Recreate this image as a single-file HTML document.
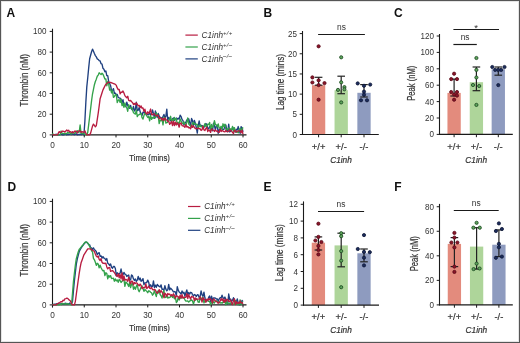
<!DOCTYPE html>
<html><head><meta charset="utf-8"><style>
html,body{margin:0;padding:0;background:#fff;}
body{width:520px;height:343px;overflow:hidden;}
.fig{position:relative;width:520px;height:343px;box-sizing:border-box;border:1px solid #555;background:#fff;box-shadow:inset 0 0 0 1px rgba(0,0,0,0.1);}
svg{position:absolute;left:-1px;top:-1px;filter:blur(0.3px);}
text{font-family:"Liberation Sans",sans-serif;}
.t{stroke:#333;stroke-width:0.2px;}
</style></head><body><div class="fig">
<svg width="520" height="343" viewBox="0 0 520 343">
<text x="6.60" y="16.60" font-size="12" text-anchor="start" font-weight="bold" font-style="normal" fill="#111" >A</text>
<line x1="52.50" y1="28.70" x2="52.50" y2="137.40" stroke="#1a1a1a" stroke-width="1.1"/>
<line x1="52.00" y1="134.90" x2="246.50" y2="134.90" stroke="#1a1a1a" stroke-width="1.1"/>
<line x1="49.70" y1="134.90" x2="52.50" y2="134.90" stroke="#1a1a1a" stroke-width="1"/>
<text transform="translate(46.50,137.90) scale(0.96,1)" font-size="8.4" text-anchor="end" font-weight="normal" font-style="normal" fill="#333" >0</text>
<line x1="49.70" y1="114.20" x2="52.50" y2="114.20" stroke="#1a1a1a" stroke-width="1"/>
<text transform="translate(46.50,117.20) scale(0.96,1)" font-size="8.4" text-anchor="end" font-weight="normal" font-style="normal" fill="#333" >20</text>
<line x1="49.70" y1="93.50" x2="52.50" y2="93.50" stroke="#1a1a1a" stroke-width="1"/>
<text transform="translate(46.50,96.50) scale(0.96,1)" font-size="8.4" text-anchor="end" font-weight="normal" font-style="normal" fill="#333" >40</text>
<line x1="49.70" y1="72.80" x2="52.50" y2="72.80" stroke="#1a1a1a" stroke-width="1"/>
<text transform="translate(46.50,75.80) scale(0.96,1)" font-size="8.4" text-anchor="end" font-weight="normal" font-style="normal" fill="#333" >60</text>
<line x1="49.70" y1="52.10" x2="52.50" y2="52.10" stroke="#1a1a1a" stroke-width="1"/>
<text transform="translate(46.50,55.10) scale(0.96,1)" font-size="8.4" text-anchor="end" font-weight="normal" font-style="normal" fill="#333" >80</text>
<line x1="49.70" y1="31.40" x2="52.50" y2="31.40" stroke="#1a1a1a" stroke-width="1"/>
<text transform="translate(46.50,34.40) scale(0.96,1)" font-size="8.4" text-anchor="end" font-weight="normal" font-style="normal" fill="#333" >100</text>
<line x1="52.50" y1="134.90" x2="52.50" y2="137.40" stroke="#1a1a1a" stroke-width="1"/>
<text transform="translate(52.50,147.90) scale(0.98,1)" font-size="8.4" text-anchor="middle" font-weight="normal" font-style="normal" fill="#333" >0</text>
<line x1="84.25" y1="134.90" x2="84.25" y2="137.40" stroke="#1a1a1a" stroke-width="1"/>
<text transform="translate(84.25,147.90) scale(0.98,1)" font-size="8.4" text-anchor="middle" font-weight="normal" font-style="normal" fill="#333" >10</text>
<line x1="116.00" y1="134.90" x2="116.00" y2="137.40" stroke="#1a1a1a" stroke-width="1"/>
<text transform="translate(116.00,147.90) scale(0.98,1)" font-size="8.4" text-anchor="middle" font-weight="normal" font-style="normal" fill="#333" >20</text>
<line x1="147.75" y1="134.90" x2="147.75" y2="137.40" stroke="#1a1a1a" stroke-width="1"/>
<text transform="translate(147.75,147.90) scale(0.98,1)" font-size="8.4" text-anchor="middle" font-weight="normal" font-style="normal" fill="#333" >30</text>
<line x1="179.50" y1="134.90" x2="179.50" y2="137.40" stroke="#1a1a1a" stroke-width="1"/>
<text transform="translate(179.50,147.90) scale(0.98,1)" font-size="8.4" text-anchor="middle" font-weight="normal" font-style="normal" fill="#333" >40</text>
<line x1="211.25" y1="134.90" x2="211.25" y2="137.40" stroke="#1a1a1a" stroke-width="1"/>
<text transform="translate(211.25,147.90) scale(0.98,1)" font-size="8.4" text-anchor="middle" font-weight="normal" font-style="normal" fill="#333" >50</text>
<line x1="243.00" y1="134.90" x2="243.00" y2="137.40" stroke="#1a1a1a" stroke-width="1"/>
<text transform="translate(243.00,147.90) scale(0.98,1)" font-size="8.4" text-anchor="middle" font-weight="normal" font-style="normal" fill="#333" >60</text>
<text x="0" y="0" font-size="10" text-anchor="middle" fill="#333" textLength="52.4" class="t" lengthAdjust="spacingAndGlyphs" transform="translate(27.8,80.2) rotate(-90)">Thrombin (nM)</text>
<text class="t" x="149.6" y="160.6" font-size="9.2" text-anchor="middle" fill="#333" textLength="40.5" lengthAdjust="spacingAndGlyphs">Time (mins)</text>
<path d="M52.50,134.90 L53.45,134.90 L54.41,134.90 L55.36,134.64 L56.31,134.19 L57.26,134.83 L58.21,134.90 L59.17,134.90 L60.12,134.44 L61.07,133.88 L62.02,134.73 L62.98,134.90 L63.93,134.90 L64.88,133.44 L65.83,134.15 L66.79,134.90 L67.74,134.02 L68.69,134.61 L69.64,134.36 L70.60,134.35 L71.55,134.57 L72.50,133.86 L73.45,134.32 L74.41,134.72 L75.36,134.09 L76.31,133.77 L77.27,134.90 L78.22,134.32 L79.17,134.71 L80.12,134.15 L81.08,134.79 L82.03,133.91 L82.98,133.89 L83.93,134.77 L84.88,121.14 L85.84,102.38 L86.79,86.84 L87.74,77.72 L88.69,67.94 L89.65,58.79 L90.60,55.26 L91.55,51.73 L92.50,49.15 L93.46,51.30 L94.41,53.54 L95.36,55.61 L96.31,56.85 L97.27,58.86 L98.22,59.46 L99.17,60.69 L100.12,60.96 L101.08,63.65 L102.03,64.06 L102.98,68.31 L103.94,69.33 L104.89,71.79 L105.84,70.93 L106.79,75.59 L107.74,75.61 L108.70,81.64 L109.65,83.40 L110.60,85.68 L111.55,90.57 L112.51,90.53 L113.46,88.64 L114.41,93.37 L115.37,93.22 L116.32,94.74 L117.27,94.41 L118.22,97.44 L119.17,97.96 L120.13,98.09 L121.08,99.36 L122.03,102.40 L122.98,99.60 L123.94,105.28 L124.89,105.75 L125.84,106.45 L126.79,102.10 L127.75,105.49 L128.70,107.34 L129.65,108.22 L130.60,105.35 L131.56,109.09 L132.51,110.09 L133.46,106.47 L134.41,110.97 L135.37,109.56 L136.32,102.14 L137.27,110.74 L138.22,110.18 L139.18,107.38 L140.13,111.84 L141.08,113.81 L142.03,115.43 L142.99,112.07 L143.94,112.72 L144.89,111.63 L145.84,113.60 L146.80,113.94 L147.75,114.81 L148.70,114.56 L149.65,113.24 L150.61,114.68 L151.56,113.81 L152.51,109.94 L153.46,113.38 L154.42,118.25 L155.37,110.99 L156.32,114.34 L157.27,117.46 L158.23,113.51 L159.18,115.73 L160.13,117.37 L161.08,117.63 L162.04,118.66 L162.99,116.53 L163.94,114.46 L164.89,117.80 L165.85,116.35 L166.80,109.17 L167.75,120.43 L168.70,117.36 L169.66,118.84 L170.61,120.73 L171.56,120.87 L172.51,118.83 L173.47,118.05 L174.42,120.41 L175.37,119.32 L176.32,118.03 L177.28,119.17 L178.23,118.10 L179.18,119.20 L180.13,115.19 L181.09,116.58 L182.04,119.43 L182.99,120.71 L183.94,124.80 L184.90,123.40 L185.85,122.32 L186.80,120.03 L187.75,120.58 L188.71,118.77 L189.66,122.33 L190.61,125.74 L191.56,118.49 L192.52,120.55 L193.47,125.43 L194.42,120.33 L195.38,123.44 L196.33,127.66 L197.28,133.12 L198.23,125.24 L199.18,120.90 L200.14,126.26 L201.09,125.31 L202.04,125.56 L202.99,125.99 L203.95,127.35 L204.90,125.11 L205.85,123.48 L206.81,124.66 L207.76,128.20 L208.71,128.88 L209.66,126.37 L210.61,128.34 L211.57,128.38 L212.52,130.83 L213.47,123.29 L214.42,125.70 L215.38,129.88 L216.33,126.03 L217.28,125.27 L218.23,133.35 L219.19,129.60 L220.14,129.41 L221.09,127.37 L222.04,129.15 L223.00,129.54 L223.95,129.33 L224.90,125.45 L225.85,124.97 L226.81,130.78 L227.76,131.71 L228.71,124.17 L229.66,131.95 L230.62,131.16 L231.57,129.94 L232.52,129.07 L233.47,127.99 L234.43,129.38 L235.38,132.08 L236.33,129.27 L237.28,129.87 L238.24,126.54 L239.19,130.54 L240.14,133.35 L241.09,126.59 L242.05,127.69 L243.00,131.88" fill="none" stroke="#1f4080" stroke-width="1.35" stroke-linejoin="round"/>
<path d="M52.50,133.21 L53.45,134.90 L54.41,134.55 L55.36,134.90 L56.31,134.90 L57.26,134.90 L58.21,134.90 L59.17,134.90 L60.12,134.90 L61.07,131.06 L62.02,133.16 L62.98,133.56 L63.93,133.43 L64.88,133.67 L65.83,133.91 L66.79,133.28 L67.74,132.48 L68.69,133.13 L69.64,132.45 L70.60,133.72 L71.55,133.84 L72.50,132.27 L73.45,132.79 L74.41,133.35 L75.36,132.85 L76.31,132.06 L77.27,130.71 L78.22,132.34 L79.17,132.13 L80.12,124.99 L81.08,133.45 L82.03,133.65 L82.98,133.24 L83.93,133.80 L84.88,134.51 L85.84,134.35 L86.79,134.90 L87.74,132.31 L88.69,124.55 L89.65,116.79 L90.60,108.88 L91.55,100.89 L92.50,94.02 L93.46,89.36 L94.41,84.70 L95.36,81.54 L96.31,79.13 L97.27,76.28 L98.22,75.06 L99.17,72.81 L100.12,73.72 L101.08,74.53 L102.03,73.20 L102.98,74.15 L103.94,76.46 L104.89,78.97 L105.84,78.92 L106.79,85.74 L107.74,81.55 L108.70,84.03 L109.65,90.18 L110.60,89.07 L111.55,92.86 L112.51,90.80 L113.46,97.43 L114.41,96.52 L115.37,94.60 L116.32,94.96 L117.27,102.55 L118.22,100.27 L119.17,99.61 L120.13,102.46 L121.08,99.03 L122.03,105.62 L122.98,103.48 L123.94,107.32 L124.89,103.02 L125.84,106.53 L126.79,107.85 L127.75,111.23 L128.70,104.75 L129.65,107.27 L130.60,107.85 L131.56,107.62 L132.51,109.87 L133.46,112.57 L134.41,113.51 L135.37,114.10 L136.32,110.01 L137.27,116.54 L138.22,114.98 L139.18,114.70 L140.13,113.81 L141.08,113.34 L142.03,117.70 L142.99,119.09 L143.94,115.56 L144.89,113.13 L145.84,114.46 L146.80,115.99 L147.75,117.51 L148.70,116.31 L149.65,120.82 L150.61,115.49 L151.56,119.34 L152.51,117.41 L153.46,118.16 L154.42,116.86 L155.37,117.77 L156.32,112.71 L157.27,115.27 L158.23,115.46 L159.18,123.62 L160.13,119.98 L161.08,120.76 L162.04,118.39 L162.99,124.88 L163.94,117.30 L164.89,117.68 L165.85,123.11 L166.80,122.51 L167.75,122.24 L168.70,120.49 L169.66,119.28 L170.61,116.28 L171.56,121.41 L172.51,119.39 L173.47,120.88 L174.42,117.45 L175.37,119.85 L176.32,118.61 L177.28,124.17 L178.23,122.36 L179.18,123.87 L180.13,118.90 L181.09,120.92 L182.04,123.18 L182.99,123.65 L183.94,121.74 L184.90,124.49 L185.85,125.14 L186.80,122.19 L187.75,117.99 L188.71,124.07 L189.66,124.89 L190.61,126.38 L191.56,126.88 L192.52,122.97 L193.47,122.41 L194.42,124.38 L195.38,123.83 L196.33,124.40 L197.28,124.46 L198.23,128.17 L199.18,125.96 L200.14,124.83 L201.09,126.86 L202.04,126.30 L202.99,127.14 L203.95,126.20 L204.90,123.75 L205.85,126.56 L206.81,126.12 L207.76,124.15 L208.71,124.62 L209.66,122.47 L210.61,130.68 L211.57,124.48 L212.52,127.44 L213.47,126.23 L214.42,120.69 L215.38,124.51 L216.33,124.80 L217.28,126.87 L218.23,123.98 L219.19,128.19 L220.14,128.08 L221.09,126.29 L222.04,129.34 L223.00,123.80 L223.95,126.41 L224.90,124.17 L225.85,129.00 L226.81,129.95 L227.76,128.92 L228.71,127.82 L229.66,130.69 L230.62,128.75 L231.57,129.68 L232.52,126.35 L233.47,131.21 L234.43,127.74 L235.38,131.36 L236.33,132.11 L237.28,131.68 L238.24,132.77 L239.19,130.08 L240.14,128.34 L241.09,130.23 L242.05,129.37 L243.00,127.38" fill="none" stroke="#33a24a" stroke-width="1.35" stroke-linejoin="round"/>
<path d="M52.50,134.90 L53.45,134.65 L54.41,134.90 L55.36,134.90 L56.31,134.90 L57.26,134.90 L58.21,133.42 L59.17,131.64 L60.12,132.44 L61.07,132.24 L62.02,131.22 L62.98,131.22 L63.93,131.33 L64.88,132.08 L65.83,130.99 L66.79,129.93 L67.74,131.15 L68.69,130.24 L69.64,131.85 L70.60,131.76 L71.55,132.63 L72.50,131.71 L73.45,132.78 L74.41,131.29 L75.36,131.18 L76.31,131.26 L77.27,132.98 L78.22,131.24 L79.17,130.94 L80.12,130.91 L81.08,132.37 L82.03,131.60 L82.98,132.15 L83.93,132.21 L84.88,130.85 L85.84,133.35 L86.79,134.90 L87.74,134.90 L88.69,134.90 L89.65,134.90 L90.60,133.14 L91.55,129.61 L92.50,126.08 L93.46,124.16 L94.41,125.47 L95.36,126.78 L96.31,125.59 L97.27,119.38 L98.22,113.17 L99.17,106.13 L100.12,98.68 L101.08,95.74 L102.03,92.81 L102.98,89.88 L103.94,87.90 L104.89,85.92 L105.84,84.32 L106.79,83.50 L107.74,82.67 L108.70,82.17 L109.65,82.34 L110.60,82.52 L111.55,82.77 L112.51,83.16 L113.46,83.56 L114.41,83.96 L115.37,84.36 L116.32,85.40 L117.27,87.94 L118.22,89.59 L119.17,89.46 L120.13,93.86 L121.08,92.20 L122.03,92.23 L122.98,90.99 L123.94,92.97 L124.89,95.62 L125.84,96.83 L126.79,97.80 L127.75,96.26 L128.70,100.36 L129.65,100.79 L130.60,100.41 L131.56,101.76 L132.51,102.50 L133.46,104.54 L134.41,103.45 L135.37,104.75 L136.32,102.84 L137.27,104.25 L138.22,105.91 L139.18,105.39 L140.13,107.59 L141.08,105.95 L142.03,108.24 L142.99,107.87 L143.94,111.41 L144.89,109.23 L145.84,113.06 L146.80,114.14 L147.75,111.77 L148.70,113.25 L149.65,111.98 L150.61,109.04 L151.56,114.60 L152.51,114.74 L153.46,113.87 L154.42,113.90 L155.37,115.48 L156.32,116.02 L157.27,115.03 L158.23,115.82 L159.18,118.83 L160.13,117.77 L161.08,118.08 L162.04,120.17 L162.99,118.39 L163.94,120.52 L164.89,117.93 L165.85,119.52 L166.80,120.02 L167.75,121.44 L168.70,121.03 L169.66,124.35 L170.61,123.31 L171.56,121.29 L172.51,125.55 L173.47,121.21 L174.42,125.61 L175.37,122.05 L176.32,124.95 L177.28,122.80 L178.23,124.21 L179.18,127.19 L180.13,123.18 L181.09,123.05 L182.04,125.54 L182.99,126.02 L183.94,126.00 L184.90,127.41 L185.85,124.39 L186.80,127.06 L187.75,126.47 L188.71,127.75 L189.66,127.66 L190.61,128.80 L191.56,125.12 L192.52,127.41 L193.47,125.88 L194.42,127.48 L195.38,128.70 L196.33,128.28 L197.28,128.76 L198.23,128.05 L199.18,128.75 L200.14,128.77 L201.09,130.51 L202.04,129.79 L202.99,126.29 L203.95,129.85 L204.90,130.55 L205.85,128.64 L206.81,127.21 L207.76,131.53 L208.71,129.84 L209.66,130.59 L210.61,132.36 L211.57,128.88 L212.52,130.11 L213.47,130.11 L214.42,131.43 L215.38,129.76 L216.33,131.26 L217.28,130.76 L218.23,132.21 L219.19,132.43 L220.14,128.87 L221.09,131.55 L222.04,130.49 L223.00,131.02 L223.95,131.67 L224.90,131.83 L225.85,130.30 L226.81,131.68 L227.76,131.53 L228.71,131.35 L229.66,129.81 L230.62,130.56 L231.57,131.04 L232.52,132.41 L233.47,133.59 L234.43,130.45 L235.38,130.49 L236.33,132.07 L237.28,131.20 L238.24,130.94 L239.19,130.94 L240.14,130.88 L241.09,132.80 L242.05,130.21 L243.00,133.99" fill="none" stroke="#b81c40" stroke-width="1.35" stroke-linejoin="round"/>
<line x1="185.40" y1="35.10" x2="197.80" y2="35.10" stroke="#b81c40" stroke-width="1.2"/>
<text x="201.60" y="37.90" font-size="8.2" font-style="italic" fill="#333" >C1inh<tspan font-size="6" dy="-3.3" letter-spacing="0.3">+/+</tspan></text>
<line x1="185.40" y1="47.00" x2="197.80" y2="47.00" stroke="#33a24a" stroke-width="1.2"/>
<text x="201.60" y="49.80" font-size="8.2" font-style="italic" fill="#333" >C1inh<tspan font-size="6" dy="-3.3" letter-spacing="0.3">+/–</tspan></text>
<line x1="185.40" y1="58.90" x2="197.80" y2="58.90" stroke="#1f4080" stroke-width="1.2"/>
<text x="201.60" y="61.70" font-size="8.2" font-style="italic" fill="#333" >C1inh<tspan font-size="6" dy="-3.3" letter-spacing="0.3">–/–</tspan></text>
<text x="7.40" y="191.20" font-size="12" text-anchor="start" font-weight="bold" font-style="normal" fill="#111" >D</text>
<line x1="52.50" y1="198.70" x2="52.50" y2="307.40" stroke="#1a1a1a" stroke-width="1.1"/>
<line x1="52.00" y1="304.90" x2="246.50" y2="304.90" stroke="#1a1a1a" stroke-width="1.1"/>
<line x1="49.70" y1="304.90" x2="52.50" y2="304.90" stroke="#1a1a1a" stroke-width="1"/>
<text transform="translate(46.50,307.90) scale(0.96,1)" font-size="8.4" text-anchor="end" font-weight="normal" font-style="normal" fill="#333" >0</text>
<line x1="49.70" y1="284.20" x2="52.50" y2="284.20" stroke="#1a1a1a" stroke-width="1"/>
<text transform="translate(46.50,287.20) scale(0.96,1)" font-size="8.4" text-anchor="end" font-weight="normal" font-style="normal" fill="#333" >20</text>
<line x1="49.70" y1="263.50" x2="52.50" y2="263.50" stroke="#1a1a1a" stroke-width="1"/>
<text transform="translate(46.50,266.50) scale(0.96,1)" font-size="8.4" text-anchor="end" font-weight="normal" font-style="normal" fill="#333" >40</text>
<line x1="49.70" y1="242.80" x2="52.50" y2="242.80" stroke="#1a1a1a" stroke-width="1"/>
<text transform="translate(46.50,245.80) scale(0.96,1)" font-size="8.4" text-anchor="end" font-weight="normal" font-style="normal" fill="#333" >60</text>
<line x1="49.70" y1="222.10" x2="52.50" y2="222.10" stroke="#1a1a1a" stroke-width="1"/>
<text transform="translate(46.50,225.10) scale(0.96,1)" font-size="8.4" text-anchor="end" font-weight="normal" font-style="normal" fill="#333" >80</text>
<line x1="49.70" y1="201.40" x2="52.50" y2="201.40" stroke="#1a1a1a" stroke-width="1"/>
<text transform="translate(46.50,204.40) scale(0.96,1)" font-size="8.4" text-anchor="end" font-weight="normal" font-style="normal" fill="#333" >100</text>
<line x1="52.50" y1="304.90" x2="52.50" y2="307.40" stroke="#1a1a1a" stroke-width="1"/>
<text transform="translate(52.50,317.90) scale(0.98,1)" font-size="8.4" text-anchor="middle" font-weight="normal" font-style="normal" fill="#333" >0</text>
<line x1="84.25" y1="304.90" x2="84.25" y2="307.40" stroke="#1a1a1a" stroke-width="1"/>
<text transform="translate(84.25,317.90) scale(0.98,1)" font-size="8.4" text-anchor="middle" font-weight="normal" font-style="normal" fill="#333" >10</text>
<line x1="116.00" y1="304.90" x2="116.00" y2="307.40" stroke="#1a1a1a" stroke-width="1"/>
<text transform="translate(116.00,317.90) scale(0.98,1)" font-size="8.4" text-anchor="middle" font-weight="normal" font-style="normal" fill="#333" >20</text>
<line x1="147.75" y1="304.90" x2="147.75" y2="307.40" stroke="#1a1a1a" stroke-width="1"/>
<text transform="translate(147.75,317.90) scale(0.98,1)" font-size="8.4" text-anchor="middle" font-weight="normal" font-style="normal" fill="#333" >30</text>
<line x1="179.50" y1="304.90" x2="179.50" y2="307.40" stroke="#1a1a1a" stroke-width="1"/>
<text transform="translate(179.50,317.90) scale(0.98,1)" font-size="8.4" text-anchor="middle" font-weight="normal" font-style="normal" fill="#333" >40</text>
<line x1="211.25" y1="304.90" x2="211.25" y2="307.40" stroke="#1a1a1a" stroke-width="1"/>
<text transform="translate(211.25,317.90) scale(0.98,1)" font-size="8.4" text-anchor="middle" font-weight="normal" font-style="normal" fill="#333" >50</text>
<line x1="243.00" y1="304.90" x2="243.00" y2="307.40" stroke="#1a1a1a" stroke-width="1"/>
<text transform="translate(243.00,317.90) scale(0.98,1)" font-size="8.4" text-anchor="middle" font-weight="normal" font-style="normal" fill="#333" >60</text>
<text x="0" y="0" font-size="10" text-anchor="middle" fill="#333" textLength="52.4" class="t" lengthAdjust="spacingAndGlyphs" transform="translate(27.8,250.2) rotate(-90)">Thrombin (nM)</text>
<text class="t" x="149.6" y="330.6" font-size="9.2" text-anchor="middle" fill="#333" textLength="40.5" lengthAdjust="spacingAndGlyphs">Time (mins)</text>
<path d="M52.50,304.14 L53.45,304.90 L54.41,304.19 L55.36,304.41 L56.31,303.78 L57.26,304.09 L58.21,303.42 L59.17,304.08 L60.12,304.23 L61.07,303.70 L62.02,303.69 L62.98,303.94 L63.93,303.81 L64.88,303.33 L65.83,303.26 L66.79,303.68 L67.74,303.55 L68.69,304.20 L69.64,303.07 L70.60,304.16 L71.55,303.83 L72.50,301.40 L73.45,290.89 L74.41,280.75 L75.36,272.47 L76.31,264.19 L77.27,259.01 L78.22,255.39 L79.17,251.77 L80.12,249.61 L81.08,248.17 L82.03,246.74 L82.98,245.31 L83.93,244.01 L84.88,242.97 L85.84,242.28 L86.79,242.28 L87.74,243.30 L88.69,244.73 L89.65,244.82 L90.60,247.60 L91.55,247.88 L92.50,249.32 L93.46,247.91 L94.41,249.77 L95.36,250.35 L96.31,251.71 L97.27,254.50 L98.22,253.23 L99.17,252.59 L100.12,256.32 L101.08,255.83 L102.03,258.05 L102.98,256.63 L103.94,258.09 L104.89,258.47 L105.84,260.25 L106.79,258.55 L107.74,263.16 L108.70,264.00 L109.65,265.40 L110.60,263.98 L111.55,267.25 L112.51,268.20 L113.46,266.44 L114.41,266.49 L115.37,268.52 L116.32,275.77 L117.27,272.81 L118.22,273.46 L119.17,274.14 L120.13,272.99 L121.08,269.02 L122.03,273.62 L122.98,274.87 L123.94,272.45 L124.89,274.11 L125.84,274.42 L126.79,276.44 L127.75,275.49 L128.70,275.03 L129.65,280.13 L130.60,279.95 L131.56,274.95 L132.51,275.85 L133.46,278.94 L134.41,280.34 L135.37,279.01 L136.32,281.42 L137.27,280.05 L138.22,276.36 L139.18,279.81 L140.13,278.05 L141.08,281.25 L142.03,280.40 L142.99,278.67 L143.94,284.62 L144.89,282.94 L145.84,282.91 L146.80,282.37 L147.75,280.09 L148.70,282.25 L149.65,287.05 L150.61,284.79 L151.56,286.34 L152.51,286.65 L153.46,280.90 L154.42,287.47 L155.37,285.09 L156.32,287.29 L157.27,284.36 L158.23,285.66 L159.18,286.39 L160.13,287.06 L161.08,284.89 L162.04,289.32 L162.99,289.17 L163.94,290.22 L164.89,285.59 L165.85,289.10 L166.80,290.84 L167.75,289.88 L168.70,284.36 L169.66,289.79 L170.61,288.16 L171.56,289.19 L172.51,290.39 L173.47,291.99 L174.42,291.55 L175.37,291.85 L176.32,295.72 L177.28,286.66 L178.23,290.16 L179.18,291.99 L180.13,292.87 L181.09,294.17 L182.04,291.00 L182.99,293.36 L183.94,292.25 L184.90,295.99 L185.85,292.79 L186.80,289.89 L187.75,294.41 L188.71,292.52 L189.66,294.14 L190.61,292.30 L191.56,292.54 L192.52,294.61 L193.47,295.94 L194.42,294.53 L195.38,295.16 L196.33,296.56 L197.28,294.74 L198.23,294.96 L199.18,297.57 L200.14,296.31 L201.09,290.90 L202.04,294.94 L202.99,296.43 L203.95,292.20 L204.90,297.78 L205.85,301.62 L206.81,300.75 L207.76,300.21 L208.71,297.16 L209.66,296.04 L210.61,301.86 L211.57,296.13 L212.52,300.50 L213.47,298.02 L214.42,297.82 L215.38,298.04 L216.33,298.97 L217.28,298.85 L218.23,301.28 L219.19,298.88 L220.14,297.75 L221.09,297.94 L222.04,295.10 L223.00,297.87 L223.95,298.59 L224.90,297.07 L225.85,299.63 L226.81,302.37 L227.76,304.10 L228.71,294.01 L229.66,299.46 L230.62,299.08 L231.57,301.20 L232.52,300.14 L233.47,297.63 L234.43,300.35 L235.38,302.90 L236.33,301.84 L237.28,298.88 L238.24,303.14 L239.19,304.90 L240.14,304.90 L241.09,303.83 L242.05,300.37 L243.00,301.65" fill="none" stroke="#1f4080" stroke-width="1.35" stroke-linejoin="round"/>
<path d="M52.50,304.89 L53.45,304.48 L54.41,304.52 L55.36,304.90 L56.31,304.90 L57.26,304.90 L58.21,304.72 L59.17,304.81 L60.12,304.25 L61.07,304.75 L62.02,303.38 L62.98,303.89 L63.93,303.65 L64.88,303.91 L65.83,303.98 L66.79,303.72 L67.74,303.61 L68.69,304.04 L69.64,304.37 L70.60,304.46 L71.55,304.90 L72.50,293.24 L73.45,281.59 L74.41,272.99 L75.36,265.00 L76.31,258.58 L77.27,255.30 L78.22,252.02 L79.17,249.46 L80.12,248.31 L81.08,247.16 L82.03,246.02 L82.98,244.87 L83.93,243.58 L84.88,242.28 L85.84,241.89 L86.79,242.34 L87.74,243.11 L88.69,244.14 L89.65,246.55 L90.60,248.20 L91.55,250.72 L92.50,251.88 L93.46,258.29 L94.41,259.76 L95.36,262.23 L96.31,265.35 L97.27,263.31 L98.22,263.99 L99.17,267.82 L100.12,265.25 L101.08,267.75 L102.03,269.56 L102.98,270.76 L103.94,270.48 L104.89,275.61 L105.84,272.68 L106.79,273.47 L107.74,278.79 L108.70,275.32 L109.65,277.06 L110.60,275.66 L111.55,278.60 L112.51,278.37 L113.46,278.26 L114.41,281.21 L115.37,278.93 L116.32,280.89 L117.27,280.01 L118.22,282.29 L119.17,279.43 L120.13,280.66 L121.08,282.49 L122.03,281.19 L122.98,280.24 L123.94,279.48 L124.89,286.43 L125.84,281.85 L126.79,282.97 L127.75,284.38 L128.70,286.49 L129.65,282.26 L130.60,287.60 L131.56,284.22 L132.51,283.04 L133.46,289.21 L134.41,286.94 L135.37,289.33 L136.32,286.53 L137.27,284.30 L138.22,289.81 L139.18,291.69 L140.13,289.59 L141.08,287.32 L142.03,285.87 L142.99,288.59 L143.94,291.33 L144.89,289.54 L145.84,290.53 L146.80,291.26 L147.75,292.71 L148.70,290.74 L149.65,291.19 L150.61,292.27 L151.56,292.79 L152.51,295.22 L153.46,293.84 L154.42,290.64 L155.37,293.74 L156.32,296.54 L157.27,291.16 L158.23,293.05 L159.18,290.12 L160.13,294.51 L161.08,295.82 L162.04,298.05 L162.99,292.75 L163.94,290.52 L164.89,297.55 L165.85,297.42 L166.80,295.14 L167.75,298.17 L168.70,297.26 L169.66,297.61 L170.61,296.74 L171.56,295.17 L172.51,297.48 L173.47,295.92 L174.42,298.74 L175.37,297.47 L176.32,302.47 L177.28,301.32 L178.23,297.17 L179.18,300.05 L180.13,297.99 L181.09,298.16 L182.04,296.76 L182.99,297.84 L183.94,297.55 L184.90,299.81 L185.85,301.03 L186.80,301.18 L187.75,300.82 L188.71,302.13 L189.66,301.12 L190.61,300.36 L191.56,299.81 L192.52,301.02 L193.47,304.08 L194.42,300.72 L195.38,300.26 L196.33,298.76 L197.28,299.81 L198.23,302.17 L199.18,302.41 L200.14,297.47 L201.09,299.85 L202.04,297.94 L202.99,297.46 L203.95,302.92 L204.90,300.78 L205.85,300.71 L206.81,300.59 L207.76,300.69 L208.71,301.37 L209.66,301.48 L210.61,304.56 L211.57,302.22 L212.52,303.32 L213.47,301.82 L214.42,302.94 L215.38,301.07 L216.33,300.78 L217.28,301.75 L218.23,301.77 L219.19,302.18 L220.14,303.15 L221.09,302.67 L222.04,303.27 L223.00,301.75 L223.95,302.42 L224.90,301.45 L225.85,304.78 L226.81,300.97 L227.76,303.83 L228.71,303.80 L229.66,302.90 L230.62,303.54 L231.57,302.10 L232.52,303.59 L233.47,304.45 L234.43,304.09 L235.38,300.46 L236.33,302.62 L237.28,304.68 L238.24,302.72 L239.19,304.90 L240.14,299.79 L241.09,304.90 L242.05,302.02 L243.00,301.93" fill="none" stroke="#33a24a" stroke-width="1.35" stroke-linejoin="round"/>
<path d="M52.50,304.56 L53.45,304.79 L54.41,304.90 L55.36,304.90 L56.31,304.80 L57.26,303.69 L58.21,303.43 L59.17,302.93 L60.12,302.21 L61.07,301.64 L62.02,301.81 L62.98,300.30 L63.93,300.65 L64.88,298.80 L65.83,298.54 L66.79,298.22 L67.74,298.45 L68.69,299.67 L69.64,300.26 L70.60,301.24 L71.55,303.99 L72.50,304.90 L73.45,304.90 L74.41,304.90 L75.36,301.34 L76.31,294.22 L77.27,287.17 L78.22,280.23 L79.17,273.63 L80.12,267.67 L81.08,262.82 L82.03,260.15 L82.98,257.48 L83.93,254.81 L84.88,253.31 L85.84,251.80 L86.79,250.30 L87.74,248.80 L88.69,248.80 L89.65,248.80 L90.60,248.80 L91.55,249.84 L92.50,250.12 L93.46,250.72 L94.41,251.42 L95.36,254.04 L96.31,256.12 L97.27,257.01 L98.22,256.08 L99.17,259.36 L100.12,260.48 L101.08,258.58 L102.03,262.31 L102.98,263.37 L103.94,263.07 L104.89,263.54 L105.84,263.19 L106.79,266.93 L107.74,268.86 L108.70,267.60 L109.65,267.34 L110.60,271.43 L111.55,270.83 L112.51,270.53 L113.46,271.54 L114.41,272.66 L115.37,274.07 L116.32,275.80 L117.27,276.47 L118.22,273.74 L119.17,277.71 L120.13,274.57 L121.08,278.97 L122.03,272.90 L122.98,280.58 L123.94,275.85 L124.89,280.22 L125.84,279.47 L126.79,279.87 L127.75,281.26 L128.70,277.19 L129.65,281.03 L130.60,283.75 L131.56,281.09 L132.51,281.46 L133.46,284.82 L134.41,282.49 L135.37,283.60 L136.32,282.75 L137.27,283.28 L138.22,284.80 L139.18,285.81 L140.13,284.03 L141.08,285.35 L142.03,288.65 L142.99,287.47 L143.94,287.73 L144.89,287.73 L145.84,283.90 L146.80,288.64 L147.75,287.59 L148.70,286.00 L149.65,288.22 L150.61,288.62 L151.56,287.49 L152.51,289.58 L153.46,289.89 L154.42,289.35 L155.37,290.09 L156.32,292.16 L157.27,293.23 L158.23,291.81 L159.18,289.65 L160.13,292.56 L161.08,290.63 L162.04,292.10 L162.99,293.55 L163.94,297.56 L164.89,293.27 L165.85,294.30 L166.80,296.60 L167.75,293.43 L168.70,294.49 L169.66,294.05 L170.61,295.80 L171.56,294.72 L172.51,295.99 L173.47,293.77 L174.42,295.44 L175.37,298.03 L176.32,295.70 L177.28,296.13 L178.23,296.75 L179.18,298.73 L180.13,295.18 L181.09,298.07 L182.04,294.61 L182.99,298.18 L183.94,297.23 L184.90,297.46 L185.85,297.28 L186.80,293.58 L187.75,298.49 L188.71,294.70 L189.66,297.01 L190.61,299.13 L191.56,296.29 L192.52,297.03 L193.47,296.98 L194.42,300.53 L195.38,297.89 L196.33,299.36 L197.28,299.08 L198.23,299.18 L199.18,299.03 L200.14,296.85 L201.09,298.73 L202.04,302.11 L202.99,297.62 L203.95,299.42 L204.90,299.44 L205.85,302.39 L206.81,299.22 L207.76,300.61 L208.71,298.58 L209.66,299.39 L210.61,298.94 L211.57,300.76 L212.52,302.95 L213.47,299.00 L214.42,299.87 L215.38,301.04 L216.33,301.45 L217.28,302.00 L218.23,303.31 L219.19,302.53 L220.14,301.01 L221.09,298.69 L222.04,300.39 L223.00,298.83 L223.95,302.57 L224.90,299.44 L225.85,301.85 L226.81,299.27 L227.76,299.67 L228.71,301.39 L229.66,301.31 L230.62,299.87 L231.57,302.71 L232.52,304.66 L233.47,300.61 L234.43,298.80 L235.38,304.45 L236.33,301.62 L237.28,303.58 L238.24,302.42 L239.19,303.44 L240.14,300.95 L241.09,302.93 L242.05,302.51 L243.00,303.77" fill="none" stroke="#b81c40" stroke-width="1.35" stroke-linejoin="round"/>
<line x1="188.00" y1="206.50" x2="200.40" y2="206.50" stroke="#b81c40" stroke-width="1.2"/>
<text x="204.20" y="209.30" font-size="8.2" font-style="italic" fill="#333" >C1inh<tspan font-size="6" dy="-3.3" letter-spacing="0.3">+/+</tspan></text>
<line x1="188.00" y1="218.40" x2="200.40" y2="218.40" stroke="#33a24a" stroke-width="1.2"/>
<text x="204.20" y="221.20" font-size="8.2" font-style="italic" fill="#333" >C1inh<tspan font-size="6" dy="-3.3" letter-spacing="0.3">+/–</tspan></text>
<line x1="188.00" y1="230.30" x2="200.40" y2="230.30" stroke="#1f4080" stroke-width="1.2"/>
<text x="204.20" y="233.10" font-size="8.2" font-style="italic" fill="#333" >C1inh<tspan font-size="6" dy="-3.3" letter-spacing="0.3">–/–</tspan></text>
<text x="263.50" y="16.60" font-size="12" text-anchor="start" font-weight="bold" font-style="normal" fill="#111" >B</text>
<rect x="311.95" y="85.20" width="13.3" height="49.30" fill="#e38b7d"/>
<rect x="334.55" y="90.20" width="13.3" height="44.30" fill="#aed59a"/>
<rect x="357.35" y="92.80" width="13.3" height="41.70" fill="#8e9bbf"/>
<line x1="318.60" y1="77.30" x2="318.60" y2="85.20" stroke="#222" stroke-width="1.2"/>
<line x1="314.80" y1="77.30" x2="322.40" y2="77.30" stroke="#222" stroke-width="1.2"/>
<line x1="314.80" y1="85.20" x2="322.40" y2="85.20" stroke="#222" stroke-width="1.2"/>
<line x1="341.20" y1="76.20" x2="341.20" y2="93.70" stroke="#222" stroke-width="1.2"/>
<line x1="337.40" y1="76.20" x2="345.00" y2="76.20" stroke="#222" stroke-width="1.2"/>
<line x1="337.40" y1="93.70" x2="345.00" y2="93.70" stroke="#222" stroke-width="1.2"/>
<line x1="364.00" y1="84.60" x2="364.00" y2="97.00" stroke="#222" stroke-width="1.2"/>
<line x1="360.20" y1="84.60" x2="367.80" y2="84.60" stroke="#222" stroke-width="1.2"/>
<line x1="360.20" y1="97.00" x2="367.80" y2="97.00" stroke="#222" stroke-width="1.2"/>
<circle cx="318.60" cy="46.30" r="1.6" fill="#8a1428" stroke="#5a0a18" stroke-width="0.85"/>
<circle cx="312.40" cy="77.40" r="1.6" fill="#8a1428" stroke="#5a0a18" stroke-width="0.85"/>
<circle cx="318.60" cy="80.30" r="1.6" fill="#8a1428" stroke="#5a0a18" stroke-width="0.85"/>
<circle cx="312.40" cy="82.50" r="1.6" fill="#8a1428" stroke="#5a0a18" stroke-width="0.85"/>
<circle cx="324.50" cy="83.10" r="1.6" fill="#8a1428" stroke="#5a0a18" stroke-width="0.85"/>
<circle cx="318.60" cy="85.10" r="1.6" fill="#8a1428" stroke="#5a0a18" stroke-width="0.85"/>
<circle cx="318.60" cy="99.70" r="1.6" fill="#8a1428" stroke="#5a0a18" stroke-width="0.85"/>
<circle cx="341.20" cy="57.30" r="1.6" fill="#5ea55c" stroke="#1d4a22" stroke-width="0.85"/>
<circle cx="341.20" cy="82.30" r="1.6" fill="#5ea55c" stroke="#1d4a22" stroke-width="0.85"/>
<circle cx="344.40" cy="87.10" r="1.6" fill="#5ea55c" stroke="#1d4a22" stroke-width="0.85"/>
<circle cx="338.00" cy="89.90" r="1.6" fill="#5ea55c" stroke="#1d4a22" stroke-width="0.85"/>
<circle cx="344.40" cy="89.30" r="1.6" fill="#5ea55c" stroke="#1d4a22" stroke-width="0.85"/>
<circle cx="341.20" cy="102.40" r="1.6" fill="#5ea55c" stroke="#1d4a22" stroke-width="0.85"/>
<circle cx="357.70" cy="83.40" r="1.6" fill="#1c2c5c" stroke="#101a3a" stroke-width="0.85"/>
<circle cx="370.20" cy="84.60" r="1.6" fill="#1c2c5c" stroke="#101a3a" stroke-width="0.85"/>
<circle cx="364.00" cy="85.80" r="1.6" fill="#1c2c5c" stroke="#101a3a" stroke-width="0.85"/>
<circle cx="364.00" cy="91.60" r="1.6" fill="#1c2c5c" stroke="#101a3a" stroke-width="0.85"/>
<circle cx="364.00" cy="94.70" r="1.6" fill="#1c2c5c" stroke="#101a3a" stroke-width="0.85"/>
<circle cx="361.00" cy="100.30" r="1.6" fill="#1c2c5c" stroke="#101a3a" stroke-width="0.85"/>
<circle cx="367.00" cy="100.30" r="1.6" fill="#1c2c5c" stroke="#101a3a" stroke-width="0.85"/>
<line x1="302.50" y1="31.00" x2="302.50" y2="135.00" stroke="#1a1a1a" stroke-width="1.1"/>
<line x1="302.00" y1="134.50" x2="378.80" y2="134.50" stroke="#1a1a1a" stroke-width="1.1"/>
<line x1="299.70" y1="134.50" x2="302.50" y2="134.50" stroke="#1a1a1a" stroke-width="1"/>
<text transform="translate(296.90,137.50) scale(0.96,1)" font-size="8.4" text-anchor="end" font-weight="normal" font-style="normal" fill="#333" >0</text>
<line x1="299.70" y1="114.32" x2="302.50" y2="114.32" stroke="#1a1a1a" stroke-width="1"/>
<text transform="translate(296.90,117.32) scale(0.96,1)" font-size="8.4" text-anchor="end" font-weight="normal" font-style="normal" fill="#333" >5</text>
<line x1="299.70" y1="94.14" x2="302.50" y2="94.14" stroke="#1a1a1a" stroke-width="1"/>
<text transform="translate(296.90,97.14) scale(0.96,1)" font-size="8.4" text-anchor="end" font-weight="normal" font-style="normal" fill="#333" >10</text>
<line x1="299.70" y1="73.96" x2="302.50" y2="73.96" stroke="#1a1a1a" stroke-width="1"/>
<text transform="translate(296.90,76.96) scale(0.96,1)" font-size="8.4" text-anchor="end" font-weight="normal" font-style="normal" fill="#333" >15</text>
<line x1="299.70" y1="53.78" x2="302.50" y2="53.78" stroke="#1a1a1a" stroke-width="1"/>
<text transform="translate(296.90,56.78) scale(0.96,1)" font-size="8.4" text-anchor="end" font-weight="normal" font-style="normal" fill="#333" >20</text>
<line x1="299.70" y1="33.60" x2="302.50" y2="33.60" stroke="#1a1a1a" stroke-width="1"/>
<text transform="translate(296.90,36.60) scale(0.96,1)" font-size="8.4" text-anchor="end" font-weight="normal" font-style="normal" fill="#333" >25</text>
<line x1="318.60" y1="134.50" x2="318.60" y2="137.30" stroke="#1a1a1a" stroke-width="1"/>
<text x="318.60" y="149.80" font-size="9.4" text-anchor="middle" font-weight="normal" font-style="normal" fill="#333" class="t">+/+</text>
<line x1="341.20" y1="134.50" x2="341.20" y2="137.30" stroke="#1a1a1a" stroke-width="1"/>
<text x="341.20" y="149.80" font-size="9.4" text-anchor="middle" font-weight="normal" font-style="normal" fill="#333" class="t">+/-</text>
<line x1="364.00" y1="134.50" x2="364.00" y2="137.30" stroke="#1a1a1a" stroke-width="1"/>
<text x="364.00" y="149.80" font-size="9.4" text-anchor="middle" font-weight="normal" font-style="normal" fill="#333" class="t">-/-</text>
<text x="341.00" y="162.80" font-size="8.3" text-anchor="middle" font-weight="normal" font-style="italic" fill="#333" class="t">C1inh</text>
<text class="t" x="0" y="0" font-size="10" text-anchor="middle" fill="#333" textLength="56" lengthAdjust="spacingAndGlyphs" transform="translate(283.6,82.0) rotate(-90)">Lag time (mins)</text>
<line x1="318.10" y1="34.50" x2="364.90" y2="34.50" stroke="#1a1a1a" stroke-width="1.2"/>
<text x="341.50" y="30.20" font-size="8.4" text-anchor="middle" font-weight="normal" font-style="normal" fill="#333" >ns</text>
<text x="394.10" y="16.60" font-size="12" text-anchor="start" font-weight="bold" font-style="normal" fill="#111" >C</text>
<rect x="447.45" y="92.90" width="13.3" height="41.50" fill="#e38b7d"/>
<rect x="469.75" y="82.20" width="13.3" height="52.20" fill="#aed59a"/>
<rect x="491.65" y="69.30" width="13.3" height="65.10" fill="#8e9bbf"/>
<line x1="454.10" y1="79.10" x2="454.10" y2="96.00" stroke="#222" stroke-width="1.2"/>
<line x1="450.30" y1="79.10" x2="457.90" y2="79.10" stroke="#222" stroke-width="1.2"/>
<line x1="450.30" y1="96.00" x2="457.90" y2="96.00" stroke="#222" stroke-width="1.2"/>
<line x1="476.40" y1="67.00" x2="476.40" y2="90.70" stroke="#222" stroke-width="1.2"/>
<line x1="472.60" y1="67.00" x2="480.20" y2="67.00" stroke="#222" stroke-width="1.2"/>
<line x1="472.60" y1="90.70" x2="480.20" y2="90.70" stroke="#222" stroke-width="1.2"/>
<line x1="498.30" y1="67.00" x2="498.30" y2="75.20" stroke="#222" stroke-width="1.2"/>
<line x1="494.50" y1="67.00" x2="502.10" y2="67.00" stroke="#222" stroke-width="1.2"/>
<line x1="494.50" y1="75.20" x2="502.10" y2="75.20" stroke="#222" stroke-width="1.2"/>
<circle cx="454.10" cy="73.70" r="1.6" fill="#8a1428" stroke="#5a0a18" stroke-width="0.85"/>
<circle cx="451.20" cy="79.10" r="1.6" fill="#8a1428" stroke="#5a0a18" stroke-width="0.85"/>
<circle cx="457.00" cy="79.10" r="1.6" fill="#8a1428" stroke="#5a0a18" stroke-width="0.85"/>
<circle cx="451.20" cy="92.00" r="1.6" fill="#8a1428" stroke="#5a0a18" stroke-width="0.85"/>
<circle cx="457.00" cy="92.00" r="1.6" fill="#8a1428" stroke="#5a0a18" stroke-width="0.85"/>
<circle cx="454.10" cy="94.50" r="1.6" fill="#8a1428" stroke="#5a0a18" stroke-width="0.85"/>
<circle cx="457.00" cy="95.60" r="1.6" fill="#8a1428" stroke="#5a0a18" stroke-width="0.85"/>
<circle cx="454.10" cy="99.70" r="1.6" fill="#8a1428" stroke="#5a0a18" stroke-width="0.85"/>
<circle cx="476.40" cy="58.00" r="1.6" fill="#5ea55c" stroke="#1d4a22" stroke-width="0.85"/>
<circle cx="476.40" cy="69.90" r="1.6" fill="#5ea55c" stroke="#1d4a22" stroke-width="0.85"/>
<circle cx="476.40" cy="77.50" r="1.6" fill="#5ea55c" stroke="#1d4a22" stroke-width="0.85"/>
<circle cx="473.00" cy="85.00" r="1.6" fill="#5ea55c" stroke="#1d4a22" stroke-width="0.85"/>
<circle cx="479.20" cy="86.00" r="1.6" fill="#5ea55c" stroke="#1d4a22" stroke-width="0.85"/>
<circle cx="476.40" cy="104.90" r="1.6" fill="#5ea55c" stroke="#1d4a22" stroke-width="0.85"/>
<circle cx="492.30" cy="67.00" r="1.6" fill="#1c2c5c" stroke="#101a3a" stroke-width="0.85"/>
<circle cx="504.50" cy="67.00" r="1.6" fill="#1c2c5c" stroke="#101a3a" stroke-width="0.85"/>
<circle cx="495.20" cy="69.90" r="1.6" fill="#1c2c5c" stroke="#101a3a" stroke-width="0.85"/>
<circle cx="498.30" cy="69.90" r="1.6" fill="#1c2c5c" stroke="#101a3a" stroke-width="0.85"/>
<circle cx="501.20" cy="69.90" r="1.6" fill="#1c2c5c" stroke="#101a3a" stroke-width="0.85"/>
<circle cx="498.30" cy="85.10" r="1.6" fill="#1c2c5c" stroke="#101a3a" stroke-width="0.85"/>
<line x1="439.50" y1="34.00" x2="439.50" y2="134.90" stroke="#1a1a1a" stroke-width="1.1"/>
<line x1="439.00" y1="134.40" x2="512.80" y2="134.40" stroke="#1a1a1a" stroke-width="1.1"/>
<line x1="436.70" y1="134.40" x2="439.50" y2="134.40" stroke="#1a1a1a" stroke-width="1"/>
<text transform="translate(433.90,137.40) scale(0.96,1)" font-size="8.4" text-anchor="end" font-weight="normal" font-style="normal" fill="#333" >0</text>
<line x1="436.70" y1="118.00" x2="439.50" y2="118.00" stroke="#1a1a1a" stroke-width="1"/>
<text transform="translate(433.90,121.00) scale(0.96,1)" font-size="8.4" text-anchor="end" font-weight="normal" font-style="normal" fill="#333" >20</text>
<line x1="436.70" y1="101.60" x2="439.50" y2="101.60" stroke="#1a1a1a" stroke-width="1"/>
<text transform="translate(433.90,104.60) scale(0.96,1)" font-size="8.4" text-anchor="end" font-weight="normal" font-style="normal" fill="#333" >40</text>
<line x1="436.70" y1="85.20" x2="439.50" y2="85.20" stroke="#1a1a1a" stroke-width="1"/>
<text transform="translate(433.90,88.20) scale(0.96,1)" font-size="8.4" text-anchor="end" font-weight="normal" font-style="normal" fill="#333" >60</text>
<line x1="436.70" y1="68.80" x2="439.50" y2="68.80" stroke="#1a1a1a" stroke-width="1"/>
<text transform="translate(433.90,71.80) scale(0.96,1)" font-size="8.4" text-anchor="end" font-weight="normal" font-style="normal" fill="#333" >80</text>
<line x1="436.70" y1="52.40" x2="439.50" y2="52.40" stroke="#1a1a1a" stroke-width="1"/>
<text transform="translate(433.90,55.40) scale(0.96,1)" font-size="8.4" text-anchor="end" font-weight="normal" font-style="normal" fill="#333" >100</text>
<line x1="436.70" y1="36.00" x2="439.50" y2="36.00" stroke="#1a1a1a" stroke-width="1"/>
<text transform="translate(433.90,39.00) scale(0.96,1)" font-size="8.4" text-anchor="end" font-weight="normal" font-style="normal" fill="#333" >120</text>
<line x1="454.10" y1="134.40" x2="454.10" y2="137.20" stroke="#1a1a1a" stroke-width="1"/>
<text x="454.10" y="149.70" font-size="9.4" text-anchor="middle" font-weight="normal" font-style="normal" fill="#333" class="t">+/+</text>
<line x1="476.40" y1="134.40" x2="476.40" y2="137.20" stroke="#1a1a1a" stroke-width="1"/>
<text x="476.40" y="149.70" font-size="9.4" text-anchor="middle" font-weight="normal" font-style="normal" fill="#333" class="t">+/-</text>
<line x1="498.30" y1="134.40" x2="498.30" y2="137.20" stroke="#1a1a1a" stroke-width="1"/>
<text x="498.30" y="149.70" font-size="9.4" text-anchor="middle" font-weight="normal" font-style="normal" fill="#333" class="t">-/-</text>
<text x="476.20" y="162.70" font-size="8.3" text-anchor="middle" font-weight="normal" font-style="italic" fill="#333" class="t">C1inh</text>
<text class="t" x="0" y="0" font-size="10" text-anchor="middle" fill="#333" textLength="35" lengthAdjust="spacingAndGlyphs" transform="translate(415.0,83.2) rotate(-90)">Peak (nM)</text>
<line x1="453.40" y1="29.50" x2="499.00" y2="29.50" stroke="#1a1a1a" stroke-width="1.2"/>
<text x="476.20" y="31.10" font-size="9.5" text-anchor="middle" font-weight="normal" font-style="normal" fill="#333" >*</text>
<line x1="453.40" y1="44.50" x2="476.80" y2="44.50" stroke="#1a1a1a" stroke-width="1.2"/>
<text x="465.10" y="40.20" font-size="8.4" text-anchor="middle" font-weight="normal" font-style="normal" fill="#333" >ns</text>
<text x="263.40" y="191.10" font-size="12" text-anchor="start" font-weight="bold" font-style="normal" fill="#111" >E</text>
<rect x="311.75" y="242.70" width="13.3" height="62.40" fill="#e38b7d"/>
<rect x="334.55" y="245.40" width="13.3" height="59.70" fill="#aed59a"/>
<rect x="357.35" y="253.30" width="13.3" height="51.80" fill="#8e9bbf"/>
<line x1="318.40" y1="236.90" x2="318.40" y2="250.00" stroke="#222" stroke-width="1.2"/>
<line x1="314.60" y1="236.90" x2="322.20" y2="236.90" stroke="#222" stroke-width="1.2"/>
<line x1="314.60" y1="250.00" x2="322.20" y2="250.00" stroke="#222" stroke-width="1.2"/>
<line x1="341.20" y1="233.20" x2="341.20" y2="266.80" stroke="#222" stroke-width="1.2"/>
<line x1="337.40" y1="233.20" x2="345.00" y2="233.20" stroke="#222" stroke-width="1.2"/>
<line x1="337.40" y1="266.80" x2="345.00" y2="266.80" stroke="#222" stroke-width="1.2"/>
<line x1="364.00" y1="249.00" x2="364.00" y2="261.80" stroke="#222" stroke-width="1.2"/>
<line x1="360.20" y1="249.00" x2="367.80" y2="249.00" stroke="#222" stroke-width="1.2"/>
<line x1="360.20" y1="261.80" x2="367.80" y2="261.80" stroke="#222" stroke-width="1.2"/>
<circle cx="318.40" cy="223.70" r="1.6" fill="#8a1428" stroke="#5a0a18" stroke-width="0.85"/>
<circle cx="318.40" cy="236.90" r="1.6" fill="#8a1428" stroke="#5a0a18" stroke-width="0.85"/>
<circle cx="315.40" cy="240.50" r="1.6" fill="#8a1428" stroke="#5a0a18" stroke-width="0.85"/>
<circle cx="321.40" cy="242.00" r="1.6" fill="#8a1428" stroke="#5a0a18" stroke-width="0.85"/>
<circle cx="318.40" cy="245.90" r="1.6" fill="#8a1428" stroke="#5a0a18" stroke-width="0.85"/>
<circle cx="318.40" cy="250.00" r="1.6" fill="#8a1428" stroke="#5a0a18" stroke-width="0.85"/>
<circle cx="318.40" cy="254.40" r="1.6" fill="#8a1428" stroke="#5a0a18" stroke-width="0.85"/>
<circle cx="341.20" cy="233.20" r="1.6" fill="#5ea55c" stroke="#1d4a22" stroke-width="0.85"/>
<circle cx="341.20" cy="236.20" r="1.6" fill="#5ea55c" stroke="#1d4a22" stroke-width="0.85"/>
<circle cx="341.20" cy="251.10" r="1.6" fill="#5ea55c" stroke="#1d4a22" stroke-width="0.85"/>
<circle cx="341.20" cy="260.70" r="1.6" fill="#5ea55c" stroke="#1d4a22" stroke-width="0.85"/>
<circle cx="341.20" cy="287.20" r="1.6" fill="#5ea55c" stroke="#1d4a22" stroke-width="0.85"/>
<circle cx="364.00" cy="235.10" r="1.6" fill="#1c2c5c" stroke="#101a3a" stroke-width="0.85"/>
<circle cx="357.80" cy="249.00" r="1.6" fill="#1c2c5c" stroke="#101a3a" stroke-width="0.85"/>
<circle cx="364.00" cy="251.90" r="1.6" fill="#1c2c5c" stroke="#101a3a" stroke-width="0.85"/>
<circle cx="369.80" cy="252.20" r="1.6" fill="#1c2c5c" stroke="#101a3a" stroke-width="0.85"/>
<circle cx="364.00" cy="257.70" r="1.6" fill="#1c2c5c" stroke="#101a3a" stroke-width="0.85"/>
<circle cx="364.00" cy="265.40" r="1.6" fill="#1c2c5c" stroke="#101a3a" stroke-width="0.85"/>
<line x1="303.50" y1="201.40" x2="303.50" y2="305.60" stroke="#1a1a1a" stroke-width="1.1"/>
<line x1="303.00" y1="305.10" x2="379.00" y2="305.10" stroke="#1a1a1a" stroke-width="1.1"/>
<line x1="300.70" y1="305.10" x2="303.50" y2="305.10" stroke="#1a1a1a" stroke-width="1"/>
<text transform="translate(297.90,308.10) scale(0.96,1)" font-size="8.4" text-anchor="end" font-weight="normal" font-style="normal" fill="#333" >0</text>
<line x1="300.70" y1="288.30" x2="303.50" y2="288.30" stroke="#1a1a1a" stroke-width="1"/>
<text transform="translate(297.90,291.30) scale(0.96,1)" font-size="8.4" text-anchor="end" font-weight="normal" font-style="normal" fill="#333" >2</text>
<line x1="300.70" y1="271.50" x2="303.50" y2="271.50" stroke="#1a1a1a" stroke-width="1"/>
<text transform="translate(297.90,274.50) scale(0.96,1)" font-size="8.4" text-anchor="end" font-weight="normal" font-style="normal" fill="#333" >4</text>
<line x1="300.70" y1="254.70" x2="303.50" y2="254.70" stroke="#1a1a1a" stroke-width="1"/>
<text transform="translate(297.90,257.70) scale(0.96,1)" font-size="8.4" text-anchor="end" font-weight="normal" font-style="normal" fill="#333" >6</text>
<line x1="300.70" y1="237.90" x2="303.50" y2="237.90" stroke="#1a1a1a" stroke-width="1"/>
<text transform="translate(297.90,240.90) scale(0.96,1)" font-size="8.4" text-anchor="end" font-weight="normal" font-style="normal" fill="#333" >8</text>
<line x1="300.70" y1="221.10" x2="303.50" y2="221.10" stroke="#1a1a1a" stroke-width="1"/>
<text transform="translate(297.90,224.10) scale(0.96,1)" font-size="8.4" text-anchor="end" font-weight="normal" font-style="normal" fill="#333" >10</text>
<line x1="300.70" y1="204.30" x2="303.50" y2="204.30" stroke="#1a1a1a" stroke-width="1"/>
<text transform="translate(297.90,207.30) scale(0.96,1)" font-size="8.4" text-anchor="end" font-weight="normal" font-style="normal" fill="#333" >12</text>
<line x1="318.40" y1="305.10" x2="318.40" y2="307.90" stroke="#1a1a1a" stroke-width="1"/>
<text x="318.40" y="320.40" font-size="9.4" text-anchor="middle" font-weight="normal" font-style="normal" fill="#333" class="t">+/+</text>
<line x1="341.20" y1="305.10" x2="341.20" y2="307.90" stroke="#1a1a1a" stroke-width="1"/>
<text x="341.20" y="320.40" font-size="9.4" text-anchor="middle" font-weight="normal" font-style="normal" fill="#333" class="t">+/-</text>
<line x1="364.00" y1="305.10" x2="364.00" y2="307.90" stroke="#1a1a1a" stroke-width="1"/>
<text x="364.00" y="320.40" font-size="9.4" text-anchor="middle" font-weight="normal" font-style="normal" fill="#333" class="t">-/-</text>
<text x="341.00" y="333.40" font-size="8.3" text-anchor="middle" font-weight="normal" font-style="italic" fill="#333" class="t">C1inh</text>
<text class="t" x="0" y="0" font-size="10" text-anchor="middle" fill="#333" textLength="57" lengthAdjust="spacingAndGlyphs" transform="translate(283.0,252.7) rotate(-90)">Lag time (mins)</text>
<line x1="318.00" y1="211.50" x2="364.10" y2="211.50" stroke="#1a1a1a" stroke-width="1.2"/>
<text x="341.05" y="207.20" font-size="8.4" text-anchor="middle" font-weight="normal" font-style="normal" fill="#333" >ns</text>
<text x="394.20" y="190.60" font-size="12" text-anchor="start" font-weight="bold" font-style="normal" fill="#111" >F</text>
<rect x="447.75" y="243.90" width="13.3" height="61.00" fill="#e38b7d"/>
<rect x="469.95" y="246.60" width="13.3" height="58.30" fill="#aed59a"/>
<rect x="492.25" y="244.70" width="13.3" height="60.20" fill="#8e9bbf"/>
<line x1="454.40" y1="237.60" x2="454.40" y2="266.60" stroke="#222" stroke-width="1.2"/>
<line x1="450.60" y1="237.60" x2="458.20" y2="237.60" stroke="#222" stroke-width="1.2"/>
<line x1="450.60" y1="266.60" x2="458.20" y2="266.60" stroke="#222" stroke-width="1.2"/>
<line x1="476.60" y1="227.70" x2="476.60" y2="269.10" stroke="#222" stroke-width="1.2"/>
<line x1="472.80" y1="227.70" x2="480.40" y2="227.70" stroke="#222" stroke-width="1.2"/>
<line x1="472.80" y1="269.10" x2="480.40" y2="269.10" stroke="#222" stroke-width="1.2"/>
<line x1="498.90" y1="229.90" x2="498.90" y2="256.60" stroke="#222" stroke-width="1.2"/>
<line x1="495.10" y1="229.90" x2="502.70" y2="229.90" stroke="#222" stroke-width="1.2"/>
<line x1="495.10" y1="256.60" x2="502.70" y2="256.60" stroke="#222" stroke-width="1.2"/>
<circle cx="454.40" cy="232.90" r="1.6" fill="#8a1428" stroke="#5a0a18" stroke-width="0.85"/>
<circle cx="454.40" cy="237.60" r="1.6" fill="#8a1428" stroke="#5a0a18" stroke-width="0.85"/>
<circle cx="451.40" cy="242.50" r="1.6" fill="#8a1428" stroke="#5a0a18" stroke-width="0.85"/>
<circle cx="457.40" cy="242.50" r="1.6" fill="#8a1428" stroke="#5a0a18" stroke-width="0.85"/>
<circle cx="454.40" cy="247.40" r="1.6" fill="#8a1428" stroke="#5a0a18" stroke-width="0.85"/>
<circle cx="454.40" cy="266.60" r="1.6" fill="#8a1428" stroke="#5a0a18" stroke-width="0.85"/>
<circle cx="454.40" cy="271.90" r="1.6" fill="#8a1428" stroke="#5a0a18" stroke-width="0.85"/>
<circle cx="476.60" cy="222.80" r="1.6" fill="#5ea55c" stroke="#1d4a22" stroke-width="0.85"/>
<circle cx="473.40" cy="227.70" r="1.6" fill="#5ea55c" stroke="#1d4a22" stroke-width="0.85"/>
<circle cx="479.80" cy="227.70" r="1.6" fill="#5ea55c" stroke="#1d4a22" stroke-width="0.85"/>
<circle cx="476.60" cy="263.60" r="1.6" fill="#5ea55c" stroke="#1d4a22" stroke-width="0.85"/>
<circle cx="473.60" cy="269.10" r="1.6" fill="#5ea55c" stroke="#1d4a22" stroke-width="0.85"/>
<circle cx="479.60" cy="268.50" r="1.6" fill="#5ea55c" stroke="#1d4a22" stroke-width="0.85"/>
<circle cx="498.90" cy="223.40" r="1.6" fill="#1c2c5c" stroke="#101a3a" stroke-width="0.85"/>
<circle cx="495.90" cy="231.00" r="1.6" fill="#1c2c5c" stroke="#101a3a" stroke-width="0.85"/>
<circle cx="501.90" cy="229.00" r="1.6" fill="#1c2c5c" stroke="#101a3a" stroke-width="0.85"/>
<circle cx="498.90" cy="243.80" r="1.6" fill="#1c2c5c" stroke="#101a3a" stroke-width="0.85"/>
<circle cx="498.90" cy="247.30" r="1.6" fill="#1c2c5c" stroke="#101a3a" stroke-width="0.85"/>
<circle cx="495.90" cy="257.80" r="1.6" fill="#1c2c5c" stroke="#101a3a" stroke-width="0.85"/>
<circle cx="501.90" cy="256.60" r="1.6" fill="#1c2c5c" stroke="#101a3a" stroke-width="0.85"/>
<line x1="439.50" y1="203.90" x2="439.50" y2="305.40" stroke="#1a1a1a" stroke-width="1.1"/>
<line x1="439.00" y1="304.90" x2="512.80" y2="304.90" stroke="#1a1a1a" stroke-width="1.1"/>
<line x1="436.70" y1="304.90" x2="439.50" y2="304.90" stroke="#1a1a1a" stroke-width="1"/>
<text transform="translate(433.90,307.90) scale(0.96,1)" font-size="8.4" text-anchor="end" font-weight="normal" font-style="normal" fill="#333" >0</text>
<line x1="436.70" y1="280.36" x2="439.50" y2="280.36" stroke="#1a1a1a" stroke-width="1"/>
<text transform="translate(433.90,283.36) scale(0.96,1)" font-size="8.4" text-anchor="end" font-weight="normal" font-style="normal" fill="#333" >20</text>
<line x1="436.70" y1="255.82" x2="439.50" y2="255.82" stroke="#1a1a1a" stroke-width="1"/>
<text transform="translate(433.90,258.82) scale(0.96,1)" font-size="8.4" text-anchor="end" font-weight="normal" font-style="normal" fill="#333" >40</text>
<line x1="436.70" y1="231.28" x2="439.50" y2="231.28" stroke="#1a1a1a" stroke-width="1"/>
<text transform="translate(433.90,234.28) scale(0.96,1)" font-size="8.4" text-anchor="end" font-weight="normal" font-style="normal" fill="#333" >60</text>
<line x1="436.70" y1="206.74" x2="439.50" y2="206.74" stroke="#1a1a1a" stroke-width="1"/>
<text transform="translate(433.90,209.74) scale(0.96,1)" font-size="8.4" text-anchor="end" font-weight="normal" font-style="normal" fill="#333" >80</text>
<line x1="454.40" y1="304.90" x2="454.40" y2="307.70" stroke="#1a1a1a" stroke-width="1"/>
<text x="454.40" y="320.20" font-size="9.4" text-anchor="middle" font-weight="normal" font-style="normal" fill="#333" class="t">+/+</text>
<line x1="476.60" y1="304.90" x2="476.60" y2="307.70" stroke="#1a1a1a" stroke-width="1"/>
<text x="476.60" y="320.20" font-size="9.4" text-anchor="middle" font-weight="normal" font-style="normal" fill="#333" class="t">+/-</text>
<line x1="498.90" y1="304.90" x2="498.90" y2="307.70" stroke="#1a1a1a" stroke-width="1"/>
<text x="498.90" y="320.20" font-size="9.4" text-anchor="middle" font-weight="normal" font-style="normal" fill="#333" class="t">-/-</text>
<text x="476.40" y="333.20" font-size="8.3" text-anchor="middle" font-weight="normal" font-style="italic" fill="#333" class="t">C1inh</text>
<text class="t" x="0" y="0" font-size="10" text-anchor="middle" fill="#333" textLength="35" lengthAdjust="spacingAndGlyphs" transform="translate(418.3,253.7) rotate(-90)">Peak (nM)</text>
<line x1="453.80" y1="210.50" x2="498.70" y2="210.50" stroke="#1a1a1a" stroke-width="1.2"/>
<text x="476.25" y="206.20" font-size="8.4" text-anchor="middle" font-weight="normal" font-style="normal" fill="#333" >ns</text>
</svg></div></body></html>
